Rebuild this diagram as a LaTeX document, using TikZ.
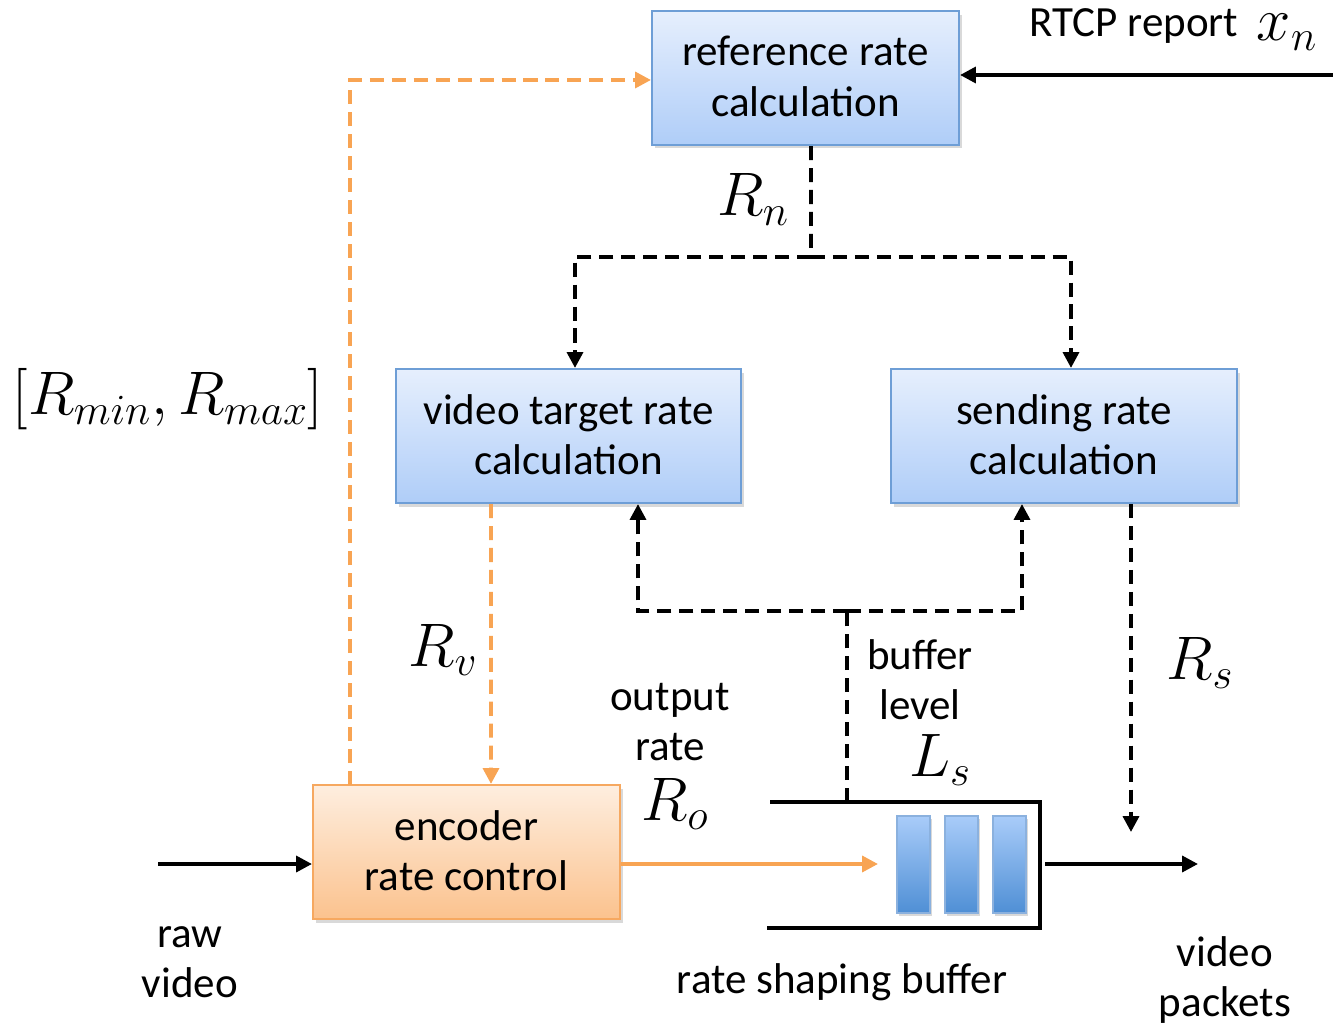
\RequirePackage{fix-cm}
\documentclass[tikz,border=0pt]{standalone}
\usepackage{fontspec}
\setmainfont{Carlito}
\usetikzlibrary{arrows.meta,shadows,calc}
\definecolor{bluetop}{HTML}{E6EFFD}
\definecolor{bluebot}{HTML}{AFCDF8}
\definecolor{blueline}{HTML}{6E9ED6}
\definecolor{orgtop}{HTML}{FEEEDF}
\definecolor{orgbot}{HTML}{FBC28E}
\definecolor{orgline}{HTML}{F6A860}
\definecolor{orgarrow}{HTML}{F8A453}
\definecolor{bartop}{HTML}{A9CCF9}
\definecolor{barbot}{HTML}{4F8FD5}
\tikzset{
  boxbase/.style={line width=1.2pt, align=center, inner sep=0pt,
    font=\fontsize{24.5}{28.5}\selectfont, text depth=2pt,
    drop shadow={opacity=0.3, shadow xshift=1.5pt, shadow yshift=-2pt}},
  bluebox/.style={boxbase, draw=blueline, top color=bluetop, bottom color=bluebot},
  orgbox/.style={boxbase, draw=orgline, top color=orgtop, bottom color=orgbot},
  barbox/.style={draw=blueline!80, line width=0.8pt, top color=bartop, bottom color=barbot,
    minimum width=0.66cm, minimum height=1.94cm, inner sep=0pt,
    drop shadow={opacity=0.3, shadow xshift=1pt, shadow yshift=-1.5pt}},
  con/.style={line width=2.1pt, -{Triangle[length=9pt,width=9pt]}},
  plain/.style={line width=2.1pt},
  dsh/.style={dash pattern=on 8pt off 4.5pt},
  mathlab/.style={font=\fontsize{35}{37}\selectfont, inner sep=0pt},
  txt/.style={font=\fontsize{24.5}{28.5}\selectfont, align=center, inner sep=0pt},
}
\begin{document}
\begin{tikzpicture}[x=0.02cm,y=-0.02cm]
\useasboundingbox (0,0) rectangle (1333,1027);

% boxes
\node[bluebox, minimum width=6.14cm, minimum height=2.68cm] (ref) at (805.5,78) {reference rate\\calculation};
\node[bluebox, minimum width=6.9cm, minimum height=2.68cm] (vid) at (568.5,436) {video target rate\\calculation};
\node[bluebox, minimum width=6.92cm, minimum height=2.68cm] (snd) at (1064,436) {sending rate\\calculation};
\node[orgbox, minimum width=6.14cm, minimum height=2.68cm] (enc) at (466.5,852) {encoder\\rate control};

% buffer
\draw[plain] (770,802) -- (1040,802) -- (1040,928) -- (767,928);
\node[barbox] (b1) at (913.5,864.5) {};
\node[barbox] (b2) at (961.5,864.5) {};
\node[barbox] (b3) at (1009.5,864.5) {};

% coordinates
\coordinate (rtcpin) at (1333,75);
\coordinate (rawin) at (158,864);
\coordinate (orgtop) at (350,80);
\coordinate (orgbot) at (350,785);
\coordinate (rnsplit) at (811,257);
\coordinate (buftop) at (847,802);
\coordinate (bufsplit) at (847,611);
\coordinate (rsend) at (1131,832);
\coordinate (bufout) at (1045,864);
\coordinate (pktout) at (1198,864);
\coordinate (encin) at (878,864);

% connectors
\draw[con] (rtcpin) -- (ref.east |- rtcpin);
\draw[con] (rawin) -- (enc.west |- rawin);
\draw[con, draw=orgarrow] (enc.east |- encin) -- (encin);
\draw[con] (bufout) -- (pktout);
\draw[con, dsh, draw=orgarrow] (orgbot) -- (orgtop) -- (ref.west |- orgtop);
\draw[con, dsh, draw=orgarrow] ($(vid.south)+(-77.5,0)$) -- ($(enc.north)+(24.5,0)$);
\draw[plain, dsh] ($(ref.south)+(5.5,0)$) -- (rnsplit);
\draw[con, dsh] (rnsplit) -| ($(vid.north)+(6.5,0)$);
\draw[con, dsh] (rnsplit) -| ($(snd.north)+(7,0)$);
\draw[plain, dsh] (buftop) -- (bufsplit);
\draw[con, dsh] (bufsplit) -| ($(vid.south)+(69.5,0)$);
\draw[con, dsh] (bufsplit) -| ($(snd.south)+(-42,0)$);
\draw[con, dsh] ($(snd.south)+(67,0)$) -- (rsend);

% labels
\node[txt, anchor=base] (rtcp) at (1134,37) {RTCP report};
\node[mathlab, anchor=base] (xn) at (1287,41) {$x_n$};
\node[mathlab, anchor=base] (rn) at (753,216) {$R_n$};
\node[mathlab, anchor=base] (rminmax) at (168,415) {$[R_{min},R_{max}]$};
\node[mathlab, anchor=base] (rv) at (443,666) {$R_v$};
\node[txt] (outrate) at (670,722) {output\\rate};
\node[mathlab, anchor=base] (ro) at (675,820) {$R_o$};
\node[txt] (buflev) at (920,680) {buffer\\level};
\node[mathlab, anchor=base] (ls) at (940,776) {$L_s$};
\node[mathlab, anchor=base] (rs) at (1200,679) {$R_s$};
\node[txt] (raw) at (190,962) {raw\\video};
\node[txt] (rsb) at (842,982) {rate shaping buffer};
\node[txt] (pkts) at (1225,980) {video\\packets};
\end{tikzpicture}
\end{document}
